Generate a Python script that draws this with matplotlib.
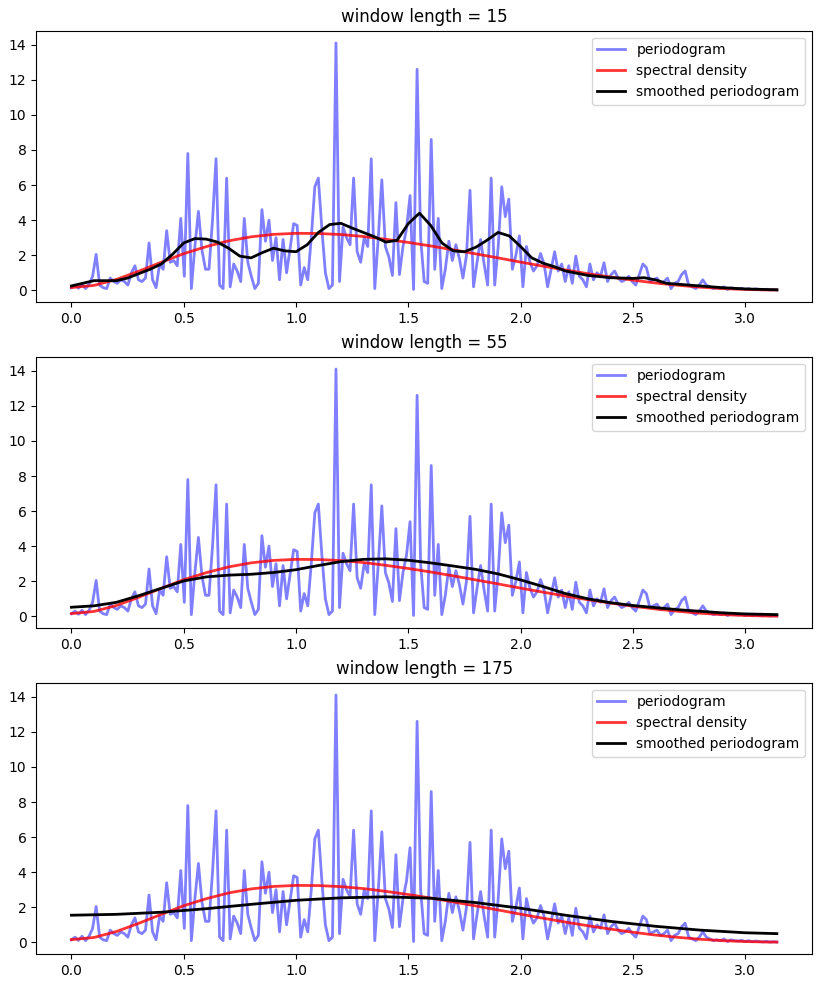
import matplotlib
matplotlib.use("Agg")
import matplotlib.pyplot as plt
import numpy as np

n = 400
# raw periodogram, one value per Fourier frequency 2*pi*j/n, j = 0..200
pgram = [
    0.15, 0.3, 0.12, 0.35, 0.1, 0.35, 0.8, 2.05, 0.3, 0.15,
    0.1, 0.7, 0.5, 0.4, 0.6, 0.5, 0.3, 1.0, 1.4, 0.6,
    0.5, 0.7, 2.7, 0.6, 0.15, 1.5, 1.2, 3.4, 1.6, 1.7,
    1.4, 4.1, 0.8, 7.8, 0.1, 2.5, 4.5, 2.3, 1.2, 1.2,
    4.0, 7.5, 0.3, 0.1, 6.4, 0.2, 1.5, 1.1, 0.5, 4.1,
    1.6, 0.8, 0.1, 0.4, 4.6, 2.8, 4.0, 1.7, 3.0, 0.6,
    2.9, 1.0, 2.4, 3.8, 3.7, 0.3, 1.3, 0.6, 3.0, 5.9,
    6.4, 3.5, 1.0, 0.1, 0.3, 14.1, 0.5, 3.6, 3.0, 2.6,
    6.4, 2.2, 1.6, 3.0, 2.5, 7.5, 0.1, 3.0, 6.3, 2.5,
    1.9, 0.85, 5.0, 0.9, 2.5, 3.5, 5.4, 0.05, 12.6, 3.0,
    0.5, 0.4, 8.6, 1.2, 4.1, 0.1, 1.2, 2.8, 1.7, 2.6,
    1.8, 0.7, 2.0, 5.7, 0.2, 1.6, 2.9, 1.5, 0.3, 6.4,
    0.3, 2.5, 5.9, 4.2, 5.2, 1.2, 2.0, 3.1, 0.2, 2.5,
    1.6, 1.1, 1.4, 2.1, 1.5, 0.2, 1.2, 2.2, 1.1, 1.5,
    0.5, 1.4, 0.4, 1.95, 0.8, 0.6, 0.2, 1.5, 0.6, 1.0,
    0.8, 1.57, 0.5, 0.9, 1.1, 0.7, 0.5, 0.6, 0.8, 0.5,
    0.3, 0.9, 1.5, 1.3, 0.5, 0.6, 0.7, 0.4, 0.5, 0.7,
    0.1, 0.4, 0.5, 0.9, 1.1, 0.3, 0.2, 0.1, 0.3, 0.6,
    0.3, 0.2, 0.1, 0.15, 0.1, 0.2, 0.05, 0.15, 0.1, 0.08,
    0.12, 0.05, 0.1, 0.04, 0.08, 0.05, 0.03, 0.06, 0.02, 0.04,
    0.02,
]
freqs = 2 * np.pi * np.arange(len(pgram)) / n

# ARMA spectral density
sd_x = [0.0, 0.1, 0.2, 0.3, 0.4, 0.5, 0.6, 0.7, 0.8, 0.9, 1.0, 1.1, 1.2, 1.3, 1.4, 1.5,
        1.6, 1.7, 1.8, 1.9, 2.0, 2.1, 2.2, 2.3, 2.4, 2.5, 2.6, 2.7, 2.8, 2.9, 3.0, 3.1, np.pi]
sd_y = [0.16, 0.28, 0.62, 1.09, 1.6, 2.09, 2.49, 2.82, 3.05, 3.19, 3.25, 3.24, 3.18, 3.07, 2.91, 2.73,
        2.53, 2.31, 2.08, 1.85, 1.61, 1.38, 1.16, 0.95, 0.76, 0.58, 0.42, 0.29, 0.18, 0.1, 0.05, 0.02, 0.02]

# smoothed periodograms (hamming window)
wl15_x = [0.0, 0.05, 0.1, 0.15, 0.2, 0.25, 0.3, 0.35, 0.4, 0.45, 0.5, 0.55, 0.6, 0.65, 0.7, 0.75,
          0.8, 0.85, 0.9, 0.95, 1.0, 1.05, 1.1, 1.15, 1.2, 1.25, 1.3, 1.35, 1.4, 1.45, 1.5, 1.55,
          1.6, 1.65, 1.7, 1.75, 1.8, 1.85, 1.9, 1.95, 2.0, 2.05, 2.1, 2.15, 2.2, 2.3, 2.4, 2.5,
          2.55, 2.6, 2.65, 2.75, 2.9, 3.0, np.pi]
wl15_y = [0.25, 0.4, 0.55, 0.55, 0.55, 0.7, 0.95, 1.2, 1.5, 2.05, 2.7, 2.95, 2.92, 2.75, 2.4, 1.95,
          1.85, 2.15, 2.4, 2.25, 2.2, 2.6, 3.3, 3.75, 3.82, 3.55, 3.3, 3.05, 2.75, 2.85, 3.8, 4.4,
          3.7, 2.7, 2.25, 2.2, 2.45, 2.85, 3.3, 3.1, 2.5, 1.85, 1.55, 1.35, 1.1, 0.85, 0.72, 0.68,
          0.72, 0.6, 0.4, 0.3, 0.15, 0.08, 0.03]

wl55_x = [0.0, 0.1, 0.2, 0.3, 0.4, 0.5, 0.6, 0.7, 0.8, 0.9, 1.0, 1.1, 1.2, 1.3, 1.4, 1.5,
          1.6, 1.7, 1.8, 1.9, 2.0, 2.1, 2.2, 2.3, 2.4, 2.5, 2.6, 2.7, 2.8, 2.9, 3.0, np.pi]
wl55_y = [0.52, 0.6, 0.8, 1.18, 1.6, 2.02, 2.25, 2.35, 2.4, 2.5, 2.66, 2.9, 3.12, 3.25, 3.28, 3.2,
          3.05, 2.87, 2.68, 2.42, 2.08, 1.7, 1.3, 1.0, 0.78, 0.62, 0.5, 0.38, 0.29, 0.2, 0.14, 0.1]

wl175_x = [0.0, 0.2, 0.4, 0.6, 0.8, 1.0, 1.2, 1.4, 1.6, 1.8, 2.0, 2.2, 2.4, 2.6, 2.8, 3.0, np.pi]
wl175_y = [1.55, 1.6, 1.72, 1.92, 2.17, 2.4, 2.54, 2.6, 2.52, 2.27, 1.95, 1.55, 1.2, 0.92, 0.7, 0.55, 0.5]

window_lengths = [15, 55, 175]
smoothed = [(wl15_x, wl15_y), (wl55_x, wl55_y), (wl175_x, wl175_y)]

fig, axes = plt.subplots(3, 1, figsize=(8.22, 9.88), dpi=100)
fig.subplots_adjust(left=0.044, right=0.988, top=0.969, bottom=0.034, hspace=0.2)

for ax, wl, (sx, sy) in zip(axes, window_lengths, smoothed):
    ax.plot(freqs, pgram, 'b-', lw=2, alpha=0.5, label='periodogram')
    ax.plot(sd_x, sd_y, 'r-', lw=2, alpha=0.8, label='spectral density')
    ax.plot(sx, sy, 'k-', lw=2, label='smoothed periodogram')
    ax.legend()
    ax.set_title(f'window length = {wl}')

plt.savefig('out.png')
